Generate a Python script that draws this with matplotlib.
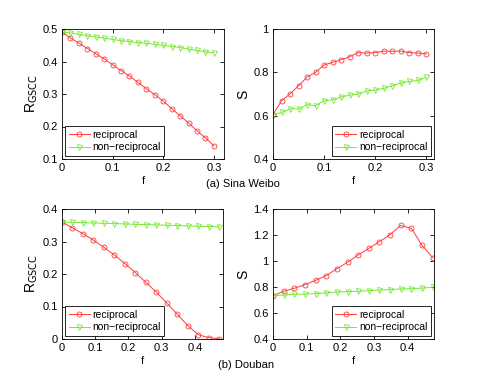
import matplotlib
matplotlib.use("Agg")
import matplotlib.pyplot as plt
from matplotlib.ticker import FuncFormatter

plt.rcParams['font.family'] = ['Liberation Sans', 'DejaVu Sans']
plt.rcParams['font.size'] = 8

# ---- data ----
f_weibo = [0.0, 0.0167, 0.0333, 0.05, 0.0667, 0.0833, 0.1, 0.1167, 0.1333, 0.15,
           0.1667, 0.1833, 0.2, 0.2167, 0.2333, 0.25, 0.2667, 0.2833, 0.3]
r_weibo_recip = [0.491, 0.472, 0.457, 0.440, 0.424, 0.408, 0.390, 0.372, 0.355, 0.336,
                 0.316, 0.298, 0.278, 0.255, 0.233, 0.211, 0.187, 0.165, 0.141]
r_weibo_nonrecip = [0.491, 0.488, 0.484, 0.479, 0.476, 0.472, 0.468, 0.464, 0.461, 0.458,
                    0.456, 0.453, 0.450, 0.446, 0.443, 0.438, 0.434, 0.430, 0.426]
s_weibo_recip = [0.605, 0.669, 0.700, 0.738, 0.778, 0.800, 0.834, 0.846, 0.858, 0.872,
                 0.891, 0.889, 0.891, 0.898, 0.897, 0.898, 0.891, 0.889, 0.885]
s_weibo_nonrecip = [0.605, 0.615, 0.632, 0.631, 0.651, 0.646, 0.669, 0.674, 0.686, 0.695,
                    0.700, 0.714, 0.718, 0.726, 0.738, 0.751, 0.758, 0.763, 0.777]

f_douban = [0.0, 0.0316, 0.0632, 0.0948, 0.1264, 0.158, 0.1896, 0.2212, 0.2528, 0.2844,
            0.316, 0.3476, 0.3792, 0.4108, 0.4424, 0.474]
r_douban_recip = [0.360, 0.342, 0.324, 0.304, 0.282, 0.258, 0.232, 0.204, 0.174, 0.144,
                  0.110, 0.076, 0.041, 0.013, 0.004, 0.001]
r_douban_nonrecip = [0.360, 0.359, 0.358, 0.357, 0.356, 0.355, 0.354, 0.353, 0.352, 0.351,
                     0.350, 0.349, 0.348, 0.347, 0.346, 0.345]
s_douban_recip = [0.733, 0.767, 0.790, 0.818, 0.851, 0.887, 0.941, 0.990, 1.046, 1.097,
                  1.149, 1.203, 1.274, 1.251, 1.121, 1.026]
s_douban_nonrecip = [0.733, 0.738, 0.744, 0.746, 0.749, 0.754, 0.762, 0.764, 0.767, 0.772,
                     0.777, 0.779, 0.785, 0.787, 0.792, 0.797]

labels = ['reciprocal', 'non\u2212reciprocal']
captions = ['(a) Sina Weibo', '(b) Douban']

RED = '#ff3b3b'
GREEN = '#77e830'

W, H = 480, 382
fig = plt.figure(figsize=(W / 100, H / 100), dpi=100)

def rect(x0, y0, x1, y1):
    return [x0 / W, 1 - y1 / H, (x1 - x0) / W, (y1 - y0) / H]

fmt = FuncFormatter(lambda v, p: ('%g' % round(v, 6)))

def panel(r, x, y1, y2, ylim, yticks, xlim, xticks, ylabel, legloc):
    ax = fig.add_axes(r)
    ax.plot(x, y1, '-o', color=RED, mfc='none', mec=RED, ms=3.6, lw=0.7, mew=0.6, label=labels[0])
    ax.plot(x, y2, '-v', color=GREEN, mfc='none', mec=GREEN, ms=3.6, lw=0.7, mew=0.6, label=labels[1])
    ax.set_xlim(*xlim)
    ax.set_ylim(*ylim)
    ax.set_xticks(xticks)
    ax.set_yticks(yticks)
    ax.xaxis.set_major_formatter(fmt)
    ax.yaxis.set_major_formatter(fmt)
    ax.tick_params(direction='in', length=3, width=0.6, top=True, right=True, labelsize=8, pad=3)
    for s in ax.spines.values():
        s.set_linewidth(0.6)
    ax.set_xlabel('f', fontsize=8, labelpad=2)
    ax.set_ylabel(ylabel, fontsize=10, labelpad=2)
    leg = ax.legend(loc=legloc, fontsize=7.5, frameon=True, fancybox=False, edgecolor='black',
                    framealpha=1, handlelength=2.0, borderpad=0.35, labelspacing=0.25,
                    handletextpad=0.25, borderaxespad=0.3)
    leg.get_frame().set_linewidth(0.6)
    return ax

panel(rect(62, 29, 224, 159), f_weibo, r_weibo_recip, r_weibo_nonrecip, (0.1, 0.5),
      [0.1, 0.2, 0.3, 0.4, 0.5], (0, 0.32), [0, 0.1, 0.2, 0.3], r'R$_{\rm GSCC}$', 'lower left')
panel(rect(273, 29, 434, 159), f_weibo, s_weibo_recip, s_weibo_nonrecip, (0.4, 1.0),
      [0.4, 0.6, 0.8, 1.0], (0, 0.315), [0, 0.1, 0.2, 0.3], 'S', 'lower right')
panel(rect(62, 209, 223, 339), f_douban, r_douban_recip, r_douban_nonrecip, (0, 0.4),
      [0, 0.1, 0.2, 0.3, 0.4], (0, 0.485), [0, 0.1, 0.2, 0.3, 0.4], r'R$_{\rm GSCC}$', 'lower left')
panel(rect(273, 209, 434, 339), f_douban, s_douban_recip, s_douban_nonrecip, (0.4, 1.4),
      [0.4, 0.6, 0.8, 1.0, 1.2, 1.4], (0, 0.478), [0, 0.1, 0.2, 0.3, 0.4], 'S', 'lower right')

fig.text(243 / W, 1 - 184 / H, captions[0], ha='center', va='center', fontsize=8)
fig.text(246 / W, 1 - 365 / H, captions[1], ha='center', va='center', fontsize=8)

fig.savefig('out.png', dpi=100)
